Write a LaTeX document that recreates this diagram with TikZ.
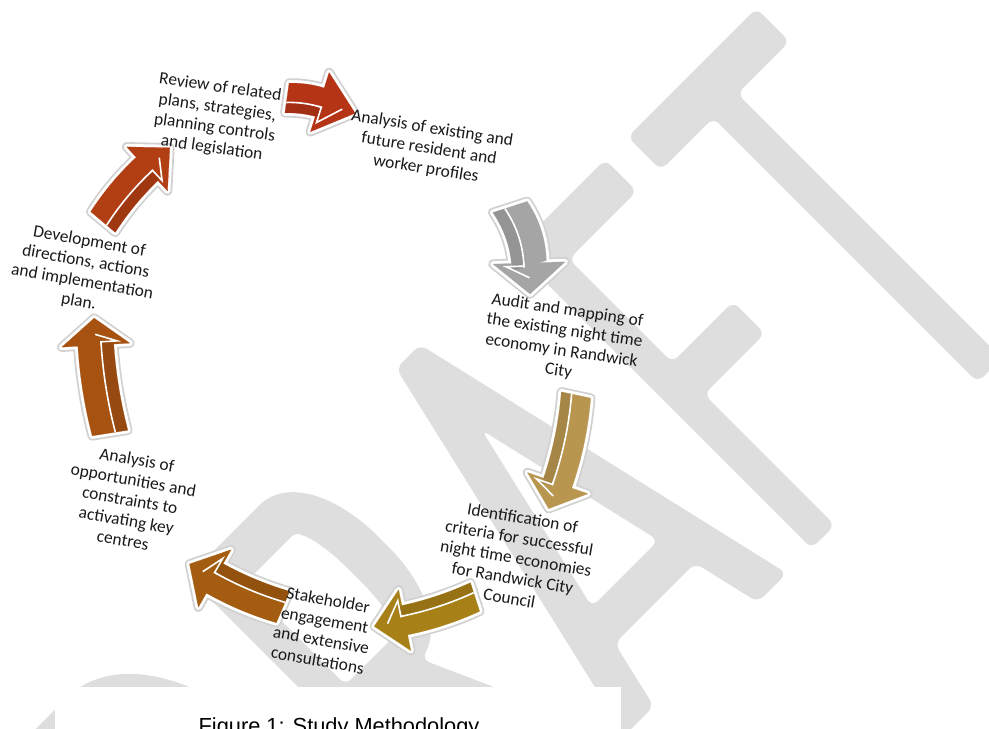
\documentclass[tikz,border=0pt]{standalone}
\usepackage{fontspec}
\setmainfont{Carlito}
\newfontfamily\captionfont{Liberation Sans}
\usepackage{xcolor}
\usetikzlibrary{calc}

\definecolor{wmgray}{RGB}{222,222,222}
\definecolor{rustred}{RGB}{181,52,22}
\definecolor{rustorange}{RGB}{178,62,20}
\definecolor{burnt}{RGB}{168,82,18}
\definecolor{ochre}{RGB}{163,92,16}
\definecolor{olivegold}{RGB}{168,128,24}
\definecolor{khaki}{RGB}{184,150,80}
\definecolor{stone}{RGB}{165,165,165}

% block arrow: tail x, tail y, heading (clockwise), shaft length, half width,
% head length, head half width, bend, colour
\newcommand{\cyclearrow}[9]{%
  \begin{scope}[shift={(#1,#2)}, rotate=-#3, x=0.5pt, y=0.5pt]
    \pgfmathsetmacro{\headtilt}{atan2(0-(#8),(#4)/3)}
    \foreach \lw/\col in {4.8/black!18, 3/white, 0.1/#9} {
      \filldraw[fill=#9, draw=\col, line width=\lw pt, line join=round]
        (0,#5) .. controls ({(#4)/3},{#8+#5}) and ({2*(#4)/3},{#8+#5}) .. (#4,#5)
        -- (#4,-#5) .. controls ({2*(#4)/3},{#8-#5}) and ({(#4)/3},{#8-#5}) .. (0,-#5) -- cycle;
      \filldraw[fill=#9, draw=\col, line width=\lw pt, line join=round, shift={(#4,0)}, rotate=\headtilt]
        (-3,#7) -- (#6,0) -- (-3,-#7) -- cycle;
    }
    \fill[black, opacity=0.1]
      (0,{-0.3*#5}) .. controls ({(#4)/3},{#8-0.3*#5}) and ({2*(#4)/3},{#8-0.3*#5}) .. (#4,{-0.3*#5})
      -- (#4,-#5) .. controls ({2*(#4)/3},{#8-#5}) and ({(#4)/3},{#8-#5}) .. (0,-#5) -- cycle;
    \draw[white, line width=0.8pt]
      (0,{-0.3*#5}) .. controls ({(#4)/3},{#8-0.3*#5}) and ({2*(#4)/3},{#8-0.3*#5}) .. (#4,{-0.3*#5});
    \draw[white, line width=0.8pt, shift={(#4,0)}, rotate=\headtilt]
      (-3,{-0.3*#5}) -- (0,{-0.3*#5}) -- (0,{-#7+0.7*#5}) -- ({#6-0.9*#5},0);
  \end{scope}}

\begin{document}
\begin{tikzpicture}[x=0.5pt, y=-0.5pt,
  stagetext/.style={align=center, font=\fontsize{8.7}{10.2}\selectfont, inner sep=0pt, text=black!90},
  wmletter/.style={fill=wmgray, rounded corners=4pt, even odd rule}]
  \useasboundingbox (0,0) rectangle (989,728);
  \clip (0,0) rectangle (989,728);

  \begin{scope}[shift={(680,680)}, x={(0.3536pt,0.3536pt)}, y={(-0.3536pt,0.3536pt)}]
    \fill[wmletter] (-560,0) -- (-560,421) -- (-455,421) .. controls (-380,421) and (-330,340) .. (-330,210)
      .. controls (-330,80) and (-380,0) .. (-455,0) -- cycle
      (-525,45) -- (-455,45) .. controls (-400,45) and (-372,110) .. (-372,210)
      .. controls (-372,310) and (-400,376) .. (-455,376) -- (-525,376) -- cycle;
    \fill[wmletter] (-275,0) -- (-275,421) -- (-182,421) .. controls (-135,421) and (-112,372) .. (-112,308)
      .. controls (-112,248) and (-132,208) .. (-168,197) -- (-80,0) -- (-124,0) -- (-207,188)
      -- (-240,188) -- (-240,0) -- cycle
      (-240,233) -- (-240,376) -- (-180,376) .. controls (-162,376) and (-156,345) .. (-156,305)
      .. controls (-156,262) and (-162,233) .. (-180,233) -- cycle;
    \fill[wmletter] (-78,0) -- (19.7,421) -- (53.3,421) -- (151,0) -- (110,0) -- (93.3,72)
      -- (-20.3,72) -- (-37,0) -- cycle (-10.5,114) -- (83.5,114) -- (36.5,317) -- cycle;
    \fill[wmletter] (186,0) -- (186,421) -- (315,421) -- (315,376) -- (219,376) -- (219,230)
      -- (305,230) -- (305,185) -- (219,185) -- (219,0) -- cycle;
    \fill[wmletter] (347,374) -- (347,421) -- (529,421) -- (529,374) -- (455,374) -- (455,0)
      -- (421,0) -- (421,374) -- cycle;
  \end{scope}

  \fill[white] (55,687) rectangle (621,740);
  \node[font=\captionfont\fontsize{10.9}{12}\selectfont, anchor=base, inner sep=0pt] (caption) at (339,733.6) {Figure 1: Study Methodology};

  \cyclearrow{287}{98}{8}{36}{15}{34}{31}{2}{rustred}
  \cyclearrow{510}{207}{72}{62}{18}{28}{36}{6}{stone}
  \cyclearrow{576}{395}{102}{93}{15}{24}{32}{4}{khaki}
  \cyclearrow{475}{597}{162}{77}{15}{28}{31}{3}{olivegold}
  \cyclearrow{283}{607}{203}{77}{17}{26}{33}{3}{ochre}
  \cyclearrow{110}{433}{261}{92}{18}{24}{34}{3}{burnt}
  \cyclearrow{103}{222}{310}{72}{16}{28}{30}{3}{rustorange}

  \node[stagetext, rotate=-8] (review) at (216,118) {Review of related\\plans, strategies,\\planning controls\\and legislation};
  \node[stagetext, rotate=-9] (profiles) at (429,149) {Analysis of existing and\\future resident and\\worker profiles};
  \node[stagetext, rotate=-8.5] (audit) at (563,341) {Audit and mapping of\\the existing night time\\economy in Randwick\\City};
  \node[stagetext, rotate=-9.5] (criteria) at (516,558) {Identification of\\criteria for successful\\night time economies\\for Randwick City\\Council};
  \node[stagetext, rotate=-10] (consult) at (323,630) {Stakeholder\\engagement\\and extensive\\consultations};
  \node[stagetext, rotate=-10] (centres) at (130,500) {Analysis of\\opportunities and\\constraints to\\activating key\\centres};
  \node[stagetext, rotate=-10] (plan) at (84,272) {Development of\\directions, actions\\and implementation\\plan.};
\end{tikzpicture}
\end{document}
